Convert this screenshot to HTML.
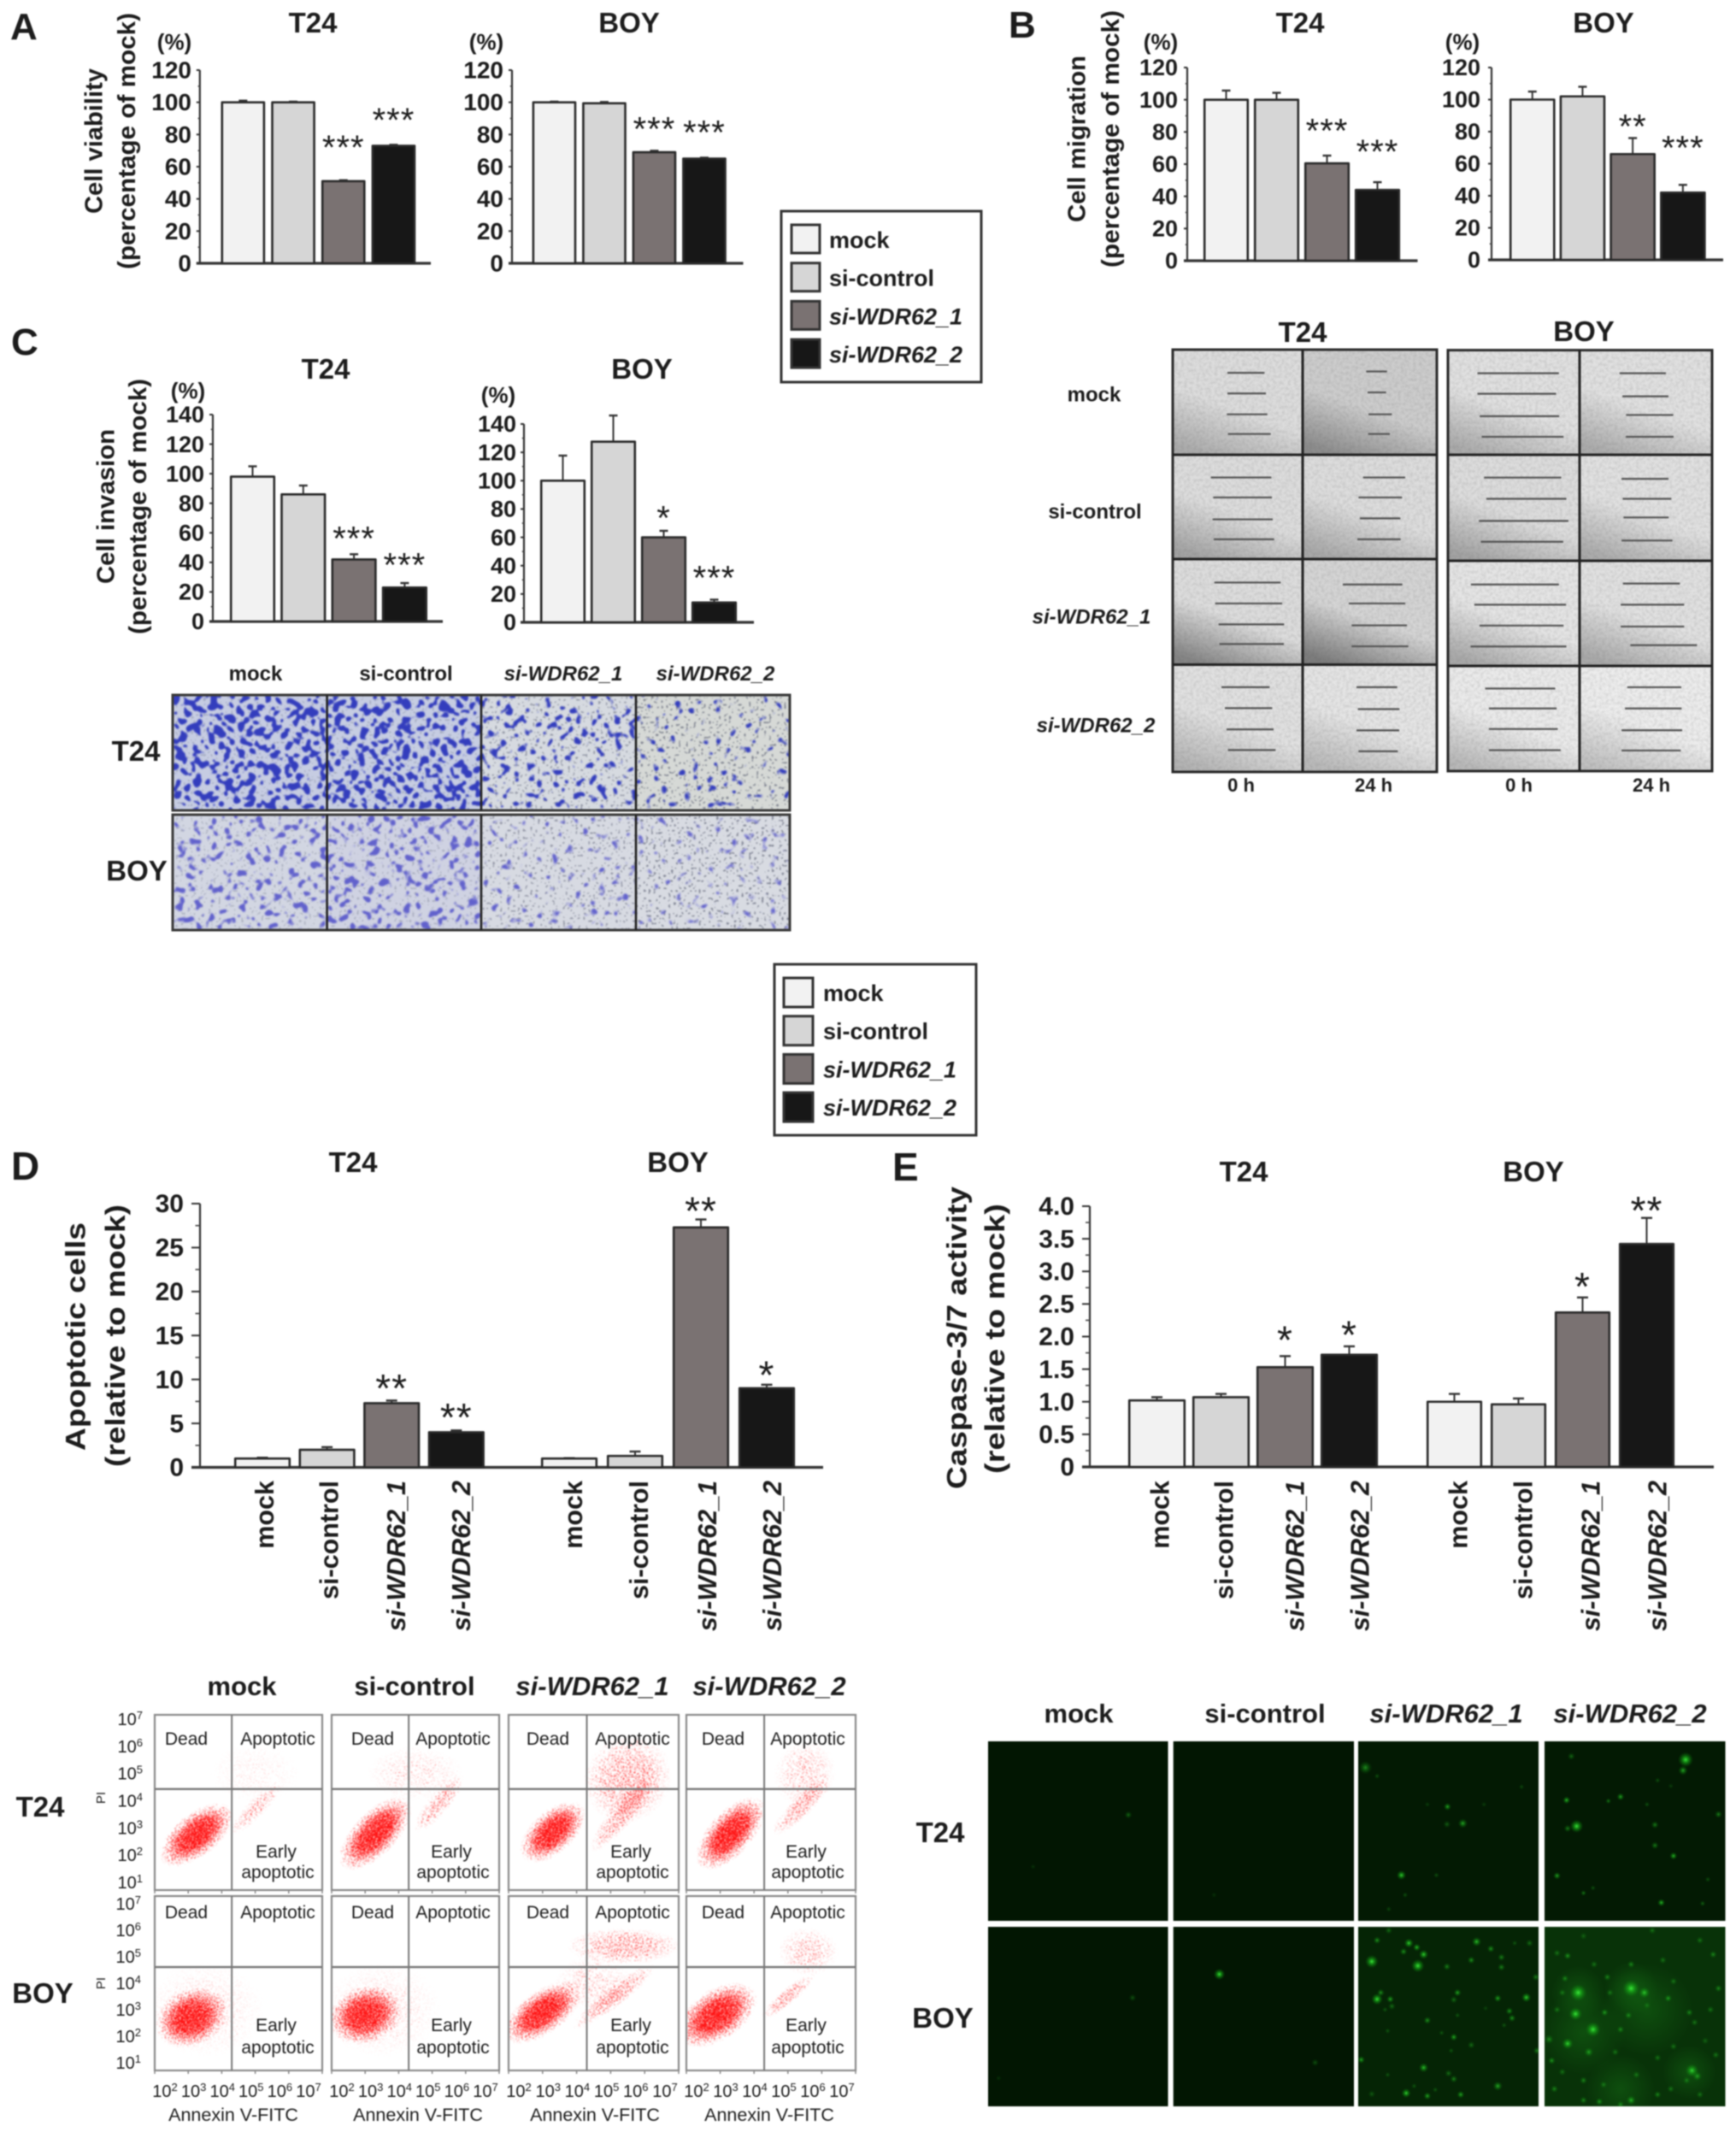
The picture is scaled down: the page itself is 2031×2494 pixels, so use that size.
<!DOCTYPE html>
<html lang="en">
<head>
<meta charset="utf-8">
<title>si-WDR62 functional assays</title>
<style>
html,body{margin:0;padding:0;background:#fff}
svg{display:block;filter:blur(.7px)}
text{font-family:"Liberation Sans",sans-serif;fill:#1c1c1c}
</style>
</head>
<body>
<svg id="fig" xmlns="http://www.w3.org/2000/svg" width="2031" height="2494" viewBox="0 0 2031 2494">
<defs>
<radialGradient id="cloudGrad"><stop offset="0" stop-color="#000" stop-opacity="1"/><stop offset=".45" stop-color="#000" stop-opacity=".82"/><stop offset=".75" stop-color="#000" stop-opacity=".38"/><stop offset="1" stop-color="#000" stop-opacity="0"/></radialGradient>
<radialGradient id="spotGrad"><stop offset="0" stop-color="#3fef3f" stop-opacity=".95"/><stop offset=".4" stop-color="#1cc81c" stop-opacity=".55"/><stop offset="1" stop-color="#0a8a0a" stop-opacity="0"/></radialGradient>
<radialGradient id="hazeGrad"><stop offset="0" stop-color="#1fa01f" stop-opacity=".26"/><stop offset="1" stop-color="#1fa01f" stop-opacity="0"/></radialGradient>
<pattern id="cellLattice" width="15" height="14" patternUnits="userSpaceOnUse"><circle cx="3.75" cy="3.5" r="3.4" fill="#000"/><circle cx="11.25" cy="10.5" r="3.4" fill="#000"/></pattern>
<filter id="speckle" filterUnits="userSpaceOnUse" x="170" y="1995" width="850" height="445" color-interpolation-filters="sRGB">
<feTurbulence type="fractalNoise" baseFrequency=".75" numOctaves="1" seed="4" result="n0"/>
<feColorMatrix in="n0" type="matrix" values="0 0 0 0 0 0 0 0 0 0 0 0 0 0 0 3 0 0 0 -1" result="n"/>
<feComposite in="SourceAlpha" in2="n" operator="arithmetic" k1="0" k2="1" k3="1" k4="-1" result="m"/>
<feColorMatrix in="m" type="matrix" values="0 0 0 0 1 0 0 0 0 .08 0 0 0 0 .08 0 0 0 5 0"/>
<feGaussianBlur stdDeviation=".45"/>
</filter>
<filter id="cellsBlue" filterUnits="userSpaceOnUse" x="202" y="813" width="722" height="135" color-interpolation-filters="sRGB">
<feTurbulence type="fractalNoise" baseFrequency=".05" numOctaves="2" seed="3" result="warp"/>
<feDisplacementMap in="SourceAlpha" in2="warp" scale="24" xChannelSelector="R" yChannelSelector="G" result="d"/>
<feGaussianBlur in="d" stdDeviation="1.5" result="db"/>
<feTurbulence type="fractalNoise" baseFrequency=".11" numOctaves="1" seed="9" result="n0"/>
<feColorMatrix in="n0" type="matrix" values="0 0 0 0 0 0 0 0 0 0 0 0 0 0 0 3 0 0 0 -1" result="n"/>
<feComposite in="db" in2="n" operator="arithmetic" k1="0" k2="1.4" k3="1" k4="-1" result="m"/>
<feColorMatrix in="m" type="matrix" values="0 0 0 0 .2 0 0 0 0 .24 0 0 0 0 .74 0 0 0 5 0"/>
<feGaussianBlur stdDeviation=".8"/>
</filter>
<filter id="cellsPurple" filterUnits="userSpaceOnUse" x="202" y="953" width="722" height="135" color-interpolation-filters="sRGB">
<feTurbulence type="fractalNoise" baseFrequency=".05" numOctaves="2" seed="17" result="warp"/>
<feDisplacementMap in="SourceAlpha" in2="warp" scale="24" xChannelSelector="R" yChannelSelector="G" result="d"/>
<feGaussianBlur in="d" stdDeviation="1.5" result="db"/>
<feTurbulence type="fractalNoise" baseFrequency=".11" numOctaves="1" seed="21" result="n0"/>
<feColorMatrix in="n0" type="matrix" values="0 0 0 0 0 0 0 0 0 0 0 0 0 0 0 3 0 0 0 -1" result="n"/>
<feComposite in="db" in2="n" operator="arithmetic" k1="0" k2="1.4" k3="1" k4="-1" result="m"/>
<feColorMatrix in="m" type="matrix" values="0 0 0 0 .38 0 0 0 0 .38 0 0 0 0 .8 0 0 0 3.6 0"/>
<feGaussianBlur stdDeviation=".8"/>
</filter>
<filter id="pores" filterUnits="userSpaceOnUse" x="200" y="810" width="732" height="282" color-interpolation-filters="sRGB">
<feTurbulence type="fractalNoise" baseFrequency=".34" numOctaves="1" seed="13" result="n0"/>
<feColorMatrix in="n0" type="matrix" values="0 0 0 0 0 0 0 0 0 0 0 0 0 0 0 3 0 0 0 -1" result="n"/>
<feComposite in="SourceAlpha" in2="n" operator="arithmetic" k1="0" k2="1" k3="1" k4="-1" result="m"/>
<feColorMatrix in="m" type="matrix" values="0 0 0 0 .32 0 0 0 0 .34 0 0 0 0 .42 0 0 0 5 0"/>
<feGaussianBlur stdDeviation=".6"/>
</filter>
<filter id="grain" filterUnits="userSpaceOnUse" x="1368" y="405" width="640" height="500" color-interpolation-filters="sRGB">
<feTurbulence type="fractalNoise" baseFrequency=".28" numOctaves="2" seed="5"/>
<feColorMatrix type="matrix" values="0 0 0 0 .3 0 0 0 0 .3 0 0 0 0 .3 .3 0 0 0 -.11"/>
</filter>
</defs>
<g id="panel-a"></g>
<g id="panel-b"></g>
<g id="panel-c"></g>
<g id="panel-d"></g>
<g id="panel-e"></g>
</svg>
<script>
/* ---------- chart data ---------- */
const categories = ['mock','si-control','si-WDR62_1','si-WDR62_2'];
const barFills = ['#f2f2f2','#d6d6d6','#7a7272','#171717'];

const ticks120 = [0,20,40,60,80,100,120];
const ticks140 = [0,20,40,60,80,100,120,140];
const ticks30 = [0,5,10,15,20,25,30];
const ticksCaspase = ['0','0.5','1.0','1.5','2.0','2.5','3.0','3.5','4.0'];

const viabilityT24 = [100,100,51,73];
const viabilityT24Err = [101,100.4,51.6,73.6];
const viabilityT24Sig = ['','','***','***'];
const viabilityT24SigAt = [0,0,74,91];
const viabilityBOY = [100,99.4,69,65];
const viabilityBOYErr = [100.4,100.2,69.9,65.6];
const viabilityBOYSig = ['','','***','***'];
const viabilityBOYSigAt = [0,0,85.5,83.5];

const migrationT24 = [100,100,60.5,44];
const migrationT24Err = [105.7,104.3,65.3,48.8];
const migrationT24Sig = ['','','***','***'];
const migrationT24SigAt = [0,0,83,70];
const migrationBOY = [100,102,66,42];
const migrationBOYErr = [105,108,76,46.8];
const migrationBOYSig = ['','','**','***'];
const migrationBOYSigAt = [0,0,85.5,72];

const invasionT24 = [98,86,42,23];
const invasionT24Err = [105,92,45.5,26];
const invasionT24Sig = ['','','***','***'];
const invasionT24SigAt = [0,0,58.4,40.5];
const invasionBOY = [100,127.5,60,14];
const invasionBOYErr = [117.7,146,64.6,16];
const invasionBOYSig = ['','','*','***'];
const invasionBOYSigAt = [0,0,76,34];

const apoptosisT24 = [1.0,2.0,7.3,4.0];
const apoptosisT24Err = [1.1,2.3,7.6,4.2];
const apoptosisT24Sig = ['','','**','**'];
const apoptosisT24SigAt = [0,0,9.4,6.1];
const apoptosisBOY = [1.0,1.3,27.3,9.0];
const apoptosisBOYErr = [1.05,1.8,28.2,9.4];
const apoptosisBOYSig = ['','','**','*'];
const apoptosisBOYSigAt = [0,0,29.6,10.9];

const caspaseT24 = [1.02,1.07,1.53,1.72];
const caspaseT24Err = [1.07,1.12,1.70,1.85];
const caspaseT24Sig = ['','','*','*'];
const caspaseT24SigAt = [0,0,2.0,2.08];
const caspaseBOY = [1.0,0.96,2.37,3.42];
const caspaseBOYErr = [1.12,1.05,2.6,3.82];
const caspaseBOYSig = ['','','*','**'];
const caspaseBOYSigAt = [0,0,2.82,3.99];

/* flow cytometry populations: log10 Annexin, log10 PI, long radius, short radius (decades), tilt, density */
const flowT24Mock = [[3.25,2.75,1.45,.72,-38,1],[5,3.7,1.2,.3,-45,.28],[5,5,1.5,1,0,.06]];
const flowT24Control = [[3.3,2.8,1.55,.72,-46,1],[5.2,3.9,1.2,.35,-50,.35],[4.5,5,1.6,.9,0,.12]];
const flowT24Wdr1 = [[3.3,2.85,1.3,.7,-42,1],[5.4,3.6,1.7,.4,-50,.38],[5.5,4.8,1.5,1.4,-45,.36]];
const flowT24Wdr2 = [[3.3,2.8,1.5,.72,-48,1],[5.4,3.8,1.3,.35,-45,.38],[5.5,5,1.1,1,-60,.2]];
const flowBOYMock = [[3.1,2.7,1.25,.95,-25,1],[3.5,3,2,1.6,0,.1]];
const flowBOYControl = [[3,2.8,1.25,.95,-20,1],[3.5,3,2,1.6,0,.1]];
const flowBOYWdr1 = [[3,2.9,1.5,.72,-35,1],[5.1,3.5,1.7,.35,-38,.4],[5.4,5.4,1.9,.6,0,.36],[4.5,4,1.3,.9,0,.16]];
const flowBOYWdr2 = [[2.9,2.8,1.5,.85,-33,1],[5,3.5,1.15,.26,-40,.38],[5.6,5.2,1,.8,0,.22]];
const flowDecadesX = [2,3,4,5,6,7];
const flowDecadesY = [1,2,3,4,5,6,7];

/* wound-healing annotation lines: [start, end, height] */
const woundT24 = [
 [[768,898,225],[768,903,288],[766,908,352],[770,920,412]],
 [[1255,1328,221],[1260,1325,285],[1263,1345,352],[1262,1338,412]],
 [[710,922,545],[718,924,606],[716,927,673],[720,932,734]],
 [[1244,1392,545],[1228,1381,606],[1233,1375,670],[1224,1376,734]],
 [[722,955,866],[725,960,930],[737,967,994],[740,966,1054]],
 [[1173,1382,872],[1194,1392,930],[1204,1398,997],[1204,1403,1061]],
 [[747,916,1186],[759,925,1250],[765,930,1315],[770,937,1378]],
 [[1221,1364,1186],[1226,1372,1253],[1221,1371,1318],[1228,1366,1382]]];
const woundBOY = [
 [[175,460,180],[175,450,245],[183,461,316],[190,476,381]],
 [[672,834,180],[682,843,253],[695,860,312],[694,861,381]],
 [[198,468,510],[206,486,577],[180,493,647],[187,475,713]],
 [[679,843,514],[683,853,577],[686,844,636],[679,857,709]],
 [[152,460,848],[164,485,912],[182,476,978],[151,486,1044]],
 [[684,883,845],[676,898,912],[676,898,981],[710,943,1040]],
 [[202,447,1177],[215,452,1240],[215,456,1305],[215,466,1372]],
 [[699,888,1173],[691,889,1240],[679,891,1309],[679,886,1373]]];
const woundToneT24 = [['#dcdcdc','#ababab'],['#cccccc','#8c8c8c'],['#dcdcdc','#a3a3a3'],['#dcdcdc','#a8a8a8'],['#dcdcdc','#858585'],['#d4d4d4','#7c7c7c'],['#e0e0e0','#b3b3b3'],['#e4e4e4','#b8b8b8']];
const woundToneBOY = [['#e0e0e0','#ababab'],['#e0e0e0','#ababab'],['#dcdcdc','#a3a3a3'],['#e0e0e0','#ababab'],['#e4e4e4','#a8a8a8'],['#e0e0e0','#a8a8a8'],['#eaeaea','#b8b8b8'],['#ececec','#c0c0c0']];

/* invasion assay stain density per tile */
const stainT24 = [1,.95,.5,.28];
const stainBOY = [.58,.66,.32,.24];
const poreDensity = [.06,.06,.1,.13];
const stainBackT24 = ['#c6cce2','#c6cde2','#d6dae0','#d6d9d6'];
const stainBackBOY = ['#d2d6e2','#cfd2e2','#d7dae2','#d8dbe2'];

/* caspase fluorescence foci: x, y, brightness, size */
const fociT24 = [
 [[420,432,.4,4],[240,615,.15,3]],
 [[582,715,.15,3]],
 [[868,265,.55,7],[1023,403,.7,4],[1052,462,.7,5],[1022,465,.35,4],[936,645,.9,5],[1002,645,.3,3],[943,715,.3,3],[912,765,.25,3],[1163,333,.25,3],[1092,395,.2,3],[985,395,.2,3],[890,295,.3,3]],
 [[1473,237,1,8],[1468,275,.7,5],[1257,225,.4,4],[1248,380,.8,4],[1350,368,.7,4],[1327,383,.5,3],[1400,395,.3,3],[1267,472,1,7],[1250,480,.5,4],[1415,467,.5,4],[1415,540,.5,4],[1450,577,.8,4],[1230,647,.7,4],[1535,430,.5,4],[1280,708,.5,3],[1298,690,.3,3],[1427,742,.8,4],[1505,745,.4,3],[1515,660,.3,3],[1420,310,.3,3],[1445,330,.2,3]]];
const fociBOY = [
 [[428,1078,.3,4],[175,1362,.15,3]],
 [[592,995,1,6],[773,1307,.3,4]],
 [[880,950,1,7],[950,885,.9,5],[940,915,.6,4],[965,900,.8,4],[978,925,.9,5],[967,965,1,7],[890,875,.6,4],[912,840,.4,4],[1078,880,.8,5],[1105,905,.6,4],[1125,935,.5,4],[1068,945,.6,4],[1022,968,.5,4],[1125,970,.5,4],[1150,885,.3,3],[1178,885,.4,4],[1190,1005,.5,4],[890,1083,1,6],[897,1060,.6,4],[915,1083,.7,4],[918,1108,.4,4],[905,1120,.3,3],[1042,1060,.7,4],[1035,1085,.4,4],[1118,1080,.7,4],[1172,1077,.9,5],[1140,1125,.6,4],[1145,1150,.6,4],[985,1158,.6,4],[1042,1140,.3,3],[1095,1115,.2,3],[1130,1175,.3,3],[910,1195,.3,3],[1012,1202,.3,3],[1035,1217,.7,4],[1068,1245,.4,4],[1030,1265,.3,3],[1192,1265,.5,4],[860,1297,.7,4],[978,1325,.8,5],[1025,1345,.4,4],[1035,1365,.5,4],[910,1350,.3,3],[1118,1390,.7,5],[945,1415,.9,5],[985,1425,.7,4],[880,1418,.3,4],[1048,1420,.7,4],[1000,1403,.3,3],[960,1390,.3,3]],
 [[1270,1060,1,9],[1370,1045,1,9],[1395,1060,.8,6],[1265,1135,1,7],[1298,1190,1,8],[1250,1240,.9,6],[1215,1225,.5,5],[1220,1300,.6,4],[1485,1335,.9,7],[1495,1355,.6,5],[1370,960,.5,4],[1250,930,.6,4],[1230,920,.4,4],[1325,1005,.5,4],[1245,1010,.5,4],[1430,945,.4,4],[1525,925,.5,4],[1500,875,.4,4],[1410,840,.4,4],[1280,860,.3,4],[1440,1080,.6,4],[1320,1130,.6,4],[1365,1140,.5,4],[1480,1130,.5,4],[1535,1045,.5,4],[1490,1165,.4,4],[1400,1105,.3,4],[1350,1190,.5,4],[1290,1270,.6,5],[1420,1290,.4,4],[1530,1280,.4,4],[1280,1370,.5,4],[1318,1385,.4,4],[1225,1400,.5,4],[1370,1440,.7,5],[1310,1445,.6,4],[1350,1455,.5,4],[1420,1420,.5,4],[1445,1400,.4,4],[1475,1370,.4,4],[1280,1440,.5,4],[1500,1420,.4,4],[1240,1060,.4,4],[1330,1060,.4,4],[1300,960,.4,4],[1450,1020,.4,4],[1520,1120,.4,4],[1230,1120,.4,4],[1240,1340,.4,4],[1380,1350,.4,4],[1450,1250,.4,4],[1340,1270,.4,4],[1510,1230,.3,4]]];
const hazeBOYWdr2 = [[1270,1060,70],[1370,1045,70],[1280,1200,110],[1480,1340,70],[1400,1120,120],[1350,1400,90]];

/* ---------- helpers ---------- */
const NS = 'http://www.w3.org/2000/svg';
const fig = document.getElementById('fig');
const pA = document.getElementById('panel-a');
const pB = document.getElementById('panel-b');
const pC = document.getElementById('panel-c');
const pD = document.getElementById('panel-d');
const pE = document.getElementById('panel-e');

function mk(tag, attrs, parent, name) {
  const el = document.createElementNS(NS, tag);
  for (const k in attrs) el.setAttribute(k, attrs[k]);
  
  
  parent.appendChild(el);
  return el;
}
function txt(parent, x, y, str, size, name, o) {
  o = o || {};
  const a = {x:x, y:y, 'font-size':size, 'font-weight':o.weight||'bold', 'text-anchor':o.anchor||'middle'};
  if (o.length) { a.textLength = o.length; a.lengthAdjust = 'spacingAndGlyphs'; }
  if (o.rot !== undefined) a.transform = 'rotate(' + o.rot + ' ' + x + ' ' + y + ')';
  if (o.spacing) a['letter-spacing'] = o.spacing;
  const t = mk('text', a, parent, name);
  const m = /^(si-WDR62)(_\d)$/.exec(str);
  if (m) {
    const s1 = document.createElementNS(NS, 'tspan');
    s1.setAttribute('font-style', 'italic');
    s1.textContent = m[1];
    t.appendChild(s1);
    const s2 = document.createElementNS(NS, 'tspan');
    s2.setAttribute('font-style', 'italic');
    s2.textContent = m[2];
    t.appendChild(s2);
  } else {
    t.textContent = str;
  }
  return t;
}
function slug(s) { return s.toLowerCase().replace(/[^a-z0-9]+/g, '-'); }

function barChart(parent, c) {
  const y = v => c.zero - v * (c.zero - c.top) / c.yMax;
  const x = i => c.x0 + i * c.step;
  const g = mk('g', {}, parent, c.name);
  if (!c.noAxis) {
    mk('line', {x1:c.axisX, x2:c.axisX, y1:c.top, y2:c.zero, stroke:'#333', 'stroke-width':c.axisW||2.2}, g, 'y-axis');
    mk('line', {x1:c.axisX - (c.tickLen||4), x2:c.axisEnd, y1:c.zero, y2:c.zero, stroke:'#333', 'stroke-width':3.2}, g, 'x-axis');
    c.ticks.forEach((t, i) => {
      const v = parseFloat(t);
      mk('line', {x1:c.axisX - (c.tickLen||4), x2:c.axisX, y1:y(v), y2:y(v), stroke:'#333', 'stroke-width':2}, g, 'y-tick');
      txt(g, c.tickRight, y(v) + c.tickSize * .34, String(t), c.tickSize, 'y-tick-label', {anchor:'end'});
      if (i < c.ticks.length - 1) {
        const m = (v + parseFloat(c.ticks[i + 1])) / 2;
        mk('line', {x1:c.axisX - (c.tickLen||4) * .55, x2:c.axisX, y1:y(m), y2:y(m), stroke:'#444', 'stroke-width':1.6}, g, 'y-minor-tick');
      }
    });
  }
  c.values.forEach((v, i) => {
    const cx = x(i) + c.w / 2;
    const capW = c.capW || 10;
    mk('line', {x1:cx, x2:cx, y1:y(v), y2:y(c.errs[i]), stroke:'#333', 'stroke-width':2}, g, 'error-bar');
    mk('line', {x1:cx - capW / 2, x2:cx + capW / 2, y1:y(c.errs[i]), y2:y(c.errs[i]), stroke:'#333', 'stroke-width':2.4}, g, 'error-cap');
    mk('rect', {x:x(i) + 1.2, y:y(v), width:c.w - 2.4, height:c.zero - y(v), fill:barFills[i], stroke:'#2a2a2a', 'stroke-width':2.6, 'stroke-linejoin':'round'}, g, 'bar-' + slug(categories[i]));
    if (c.sig[i]) {
      const fs = c.starSize || 40;
      txt(g, cx, y(c.sigAt[i]) + fs * .44, c.sig[i], fs, 'significance-stars', {weight:'normal', spacing:c.starGap === undefined ? 1 : c.starGap});
    }
  });
  if (c.labelTop) {
    const fs = 30.5;
    categories.forEach((cat, i) => {
      txt(g, x(i) + c.w / 2 + c.labelDx[i] + fs * .36, c.labelTop, cat, fs, 'category-label-' + slug(cat), {anchor:'end', rot:-90});
    });
  }
}
function yTitle(parent, line1, x1, a1, b1, line2, x2, a2, b2, size, name) {
  txt(parent, x1 + size * .36, (a1 + b1) / 2, line1, size, name + '-line-1', {rot:-90, length:b1 - a1});
  txt(parent, x2 + size * .34, (a2 + b2) / 2, line2, size, name + '-line-2', {rot:-90, length:b2 - a2});
}
function legend(x, y, w, h, sx, sw, sy, gap, tx, ty, name) {
  const g = mk('g', {}, fig, name);
  mk('rect', {x:x, y:y, width:w, height:h, fill:'#fff', stroke:'#333', 'stroke-width':3}, g, 'legend-box');
  categories.forEach((cat, i) => {
    mk('rect', {x:sx, y:sy + i * gap, width:sw, height:sw, fill:barFills[i], stroke:'#333', 'stroke-width':3}, g, 'legend-swatch-' + slug(cat));
    txt(g, tx, ty + i * gap, cat, 27, 'legend-entry-' + slug(cat), {anchor:'start'});
  });
}

/* ---------- Panel A ---------- */
txt(pA, 12, 46, 'A', 44, 'panel-letter-a', {anchor:'start'});
txt(pA, 366, 38, 'T24', 33, 'title-t24');
txt(pA, 736, 38, 'BOY', 33, 'title-boy');
txt(pA, 204, 58, '(%)', 26, 'unit-t24');
txt(pA, 569, 58, '(%)', 26, 'unit-boy');
yTitle(pA, 'Cell viability', 109, 80, 250, '(percentage of mock)', 148, 15, 315, 29, 'y-axis-title');
barChart(pA, {name:'chart-viability-t24', axisX:233.8, axisEnd:504, zero:308, top:82, yMax:120, ticks:ticks120, tickRight:224, tickSize:28, x0:258.6, step:58.7, w:51.5, values:viabilityT24, errs:viabilityT24Err, sig:viabilityT24Sig, sigAt:viabilityT24SigAt});
barChart(pA, {name:'chart-viability-boy', axisX:599, axisEnd:869.5, zero:308, top:82, yMax:120, ticks:ticks120, tickRight:589, tickSize:28, x0:622.7, step:58.5, w:51.5, values:viabilityBOY, errs:viabilityBOYErr, sig:viabilityBOYSig, sigAt:viabilityBOYSigAt});
legend(914, 247, 234, 200, 926, 33, 263, 44.7, 970, 290, 'legend-top');

/* ---------- Panel B ---------- */
txt(pB, 1180, 44, 'B', 44, 'panel-letter-b', {anchor:'start'});
txt(pB, 1521, 38, 'T24', 33, 'title-t24');
txt(pB, 1876, 38, 'BOY', 33, 'title-boy');
txt(pB, 1358, 58, '(%)', 26, 'unit-t24');
txt(pB, 1711, 58, '(%)', 26, 'unit-boy');
yTitle(pB, 'Cell migration', 1259, 65, 260, '(percentage of mock)', 1299, 12, 313, 29, 'y-axis-title');
barChart(pB, {name:'chart-migration-t24', axisX:1389, axisEnd:1658.5, zero:305, top:79, yMax:120, ticks:ticks120, tickRight:1378, tickSize:27, x0:1408, step:59, w:53, values:migrationT24, errs:migrationT24Err, sig:migrationT24Sig, sigAt:migrationT24SigAt});
barChart(pB, {name:'chart-migration-boy', axisX:1745, axisEnd:2016, zero:304, top:79, yMax:120, ticks:ticks120, tickRight:1732, tickSize:27, x0:1766, step:58.7, w:53.5, values:migrationBOY, errs:migrationBOYErr, sig:migrationBOYSig, sigAt:migrationBOYSigAt});

function woundBlock(lines, tones, bx, bw, sx, ox, sy, oy, midx, rows, cellName) {
  const g = mk('g', {}, pB, cellName);
  const defs = fig.querySelector('defs');
  lines.forEach((cell, i) => {
    const r = Math.floor(i / 2), col = i % 2;
    const x = col ? midx : bx, w = col ? bx + bw - midx : midx - bx;
    const y = rows[r], h = rows[r + 1] - rows[r];
    const id = cellName + '-tone-' + i;
    const gr = document.createElementNS(NS, 'linearGradient');
    gr.setAttribute('id', id);
    gr.setAttribute('x1', '.7');
    gr.setAttribute('y1', '0');
    gr.setAttribute('x2', '.25');
    gr.setAttribute('y2', '1');
    [['0', tones[i][0]], ['.55', tones[i][0]], ['1', tones[i][1]]].forEach(s => {
      const st = document.createElementNS(NS, 'stop');
      st.setAttribute('offset', s[0]);
      st.setAttribute('stop-color', s[1]);
      gr.appendChild(st);
    });
    defs.appendChild(gr);
    mk('rect', {x:x, y:y, width:w, height:h, fill:'url(#' + id + ')'}, g, 'wound-photo');
  });
  const cid = cellName + '-clip';
  const cp = document.createElementNS(NS, 'clipPath');
  cp.setAttribute('id', cid);
  const cr = document.createElementNS(NS, 'rect');
  cr.setAttribute('x', bx);
  cr.setAttribute('y', rows[0]);
  cr.setAttribute('width', bw);
  cr.setAttribute('height', rows[4] - rows[0]);
  cp.appendChild(cr);
  defs.appendChild(cp);
  const gw = mk('g', {'clip-path':'url(#' + cid + ')'}, g, 'wound-grain-clip');
  mk('rect', {x:bx, y:rows[0], width:bw, height:rows[4] - rows[0], fill:'#000', filter:'url(#grain)'}, gw, 'wound-photo-grain');
  lines.forEach(cell => {
    cell.forEach(l => {
      mk('line', {x1:l[0] / sx + ox, x2:l[1] / sx + ox, y1:l[2] / sy + oy, y2:l[2] / sy + oy, stroke:'#555', 'stroke-width':2.2}, g, 'wound-edge-line');
    });
  });
  mk('rect', {x:bx, y:rows[0], width:bw, height:rows[4] - rows[0], fill:'none', stroke:'#2a2a2a', 'stroke-width':3}, g, 'wound-grid-frame');
  mk('line', {x1:midx, x2:midx, y1:rows[0], y2:rows[4], stroke:'#222', 'stroke-width':3}, g, 'wound-grid-divider');
  [1, 2, 3].forEach(r => {
    mk('line', {x1:bx, x2:bx + bw, y1:rows[r], y2:rows[r], stroke:'#222', 'stroke-width':3}, g, 'wound-grid-divider');
  });
}
woundBlock(woundT24, woundToneT24, 1372, 309, 3, 1180, 2.613, 350, 1524, [409,532,654,777.5,903], 'wound-t24');
woundBlock(woundBOY, woundToneBOY, 1694, 309, 2.99, 1670, 2.703, 370, 1848, [409.6,532,656,779,902], 'wound-boy');
txt(pB, 1524, 400, 'T24', 33, 'wound-title-t24');
txt(pB, 1853, 399, 'BOY', 33, 'wound-title-boy');
txt(pB, 1280, 469.5, categories[0], 24, 'wound-row-mock');
txt(pB, 1281, 606.5, categories[1], 24, 'wound-row-si-control');
txt(pB, 1277, 729.5, categories[2], 24, 'wound-row-si-wdr62-1');
txt(pB, 1282, 856.5, categories[3], 24, 'wound-row-si-wdr62-2');
txt(pB, 1452, 926, '0  h', 22, 'wound-time-0h').setAttribute('xml:space', 'preserve');
txt(pB, 1607, 926, '24  h', 22, 'wound-time-24h').setAttribute('xml:space', 'preserve');
txt(pB, 1777, 926, '0  h', 22, 'wound-time-0h').setAttribute('xml:space', 'preserve');
txt(pB, 1932, 926, '24  h', 22, 'wound-time-24h').setAttribute('xml:space', 'preserve');

/* ---------- Panel C ---------- */
txt(pC, 13, 415, 'C', 44, 'panel-letter-c', {anchor:'start'});
txt(pC, 381, 443, 'T24', 33, 'title-t24');
txt(pC, 751, 443, 'BOY', 33, 'title-boy');
txt(pC, 220, 466, '(%)', 26, 'unit-t24');
txt(pC, 583, 471, '(%)', 26, 'unit-boy');
yTitle(pC, 'Cell invasion', 123, 502, 683, '(percentage of mock)', 161, 443, 742, 29, 'y-axis-title');
barChart(pC, {name:'chart-invasion-t24', axisX:249, axisEnd:518, zero:727, top:485, yMax:140, ticks:ticks140, tickRight:239, tickSize:27, x0:269, step:59.3, w:53, values:invasionT24, errs:invasionT24Err, sig:invasionT24Sig, sigAt:invasionT24SigAt});
barChart(pC, {name:'chart-invasion-boy', axisX:613, axisEnd:882, zero:728, top:496, yMax:140, ticks:ticks140, tickRight:604, tickSize:27, x0:632, step:59, w:53, values:invasionBOY, errs:invasionBOYErr, sig:invasionBOYSig, sigAt:invasionBOYSigAt});

const tileX = [202,382.6,563,744,924];
const tileRowsY = [[813,948],[953,1088]];
[299,475,659,837].forEach((cx, i) => txt(pC, cx, 796, categories[i], 24, 'invasion-column-' + slug(categories[i])));
txt(pC, 159, 890, 'T24', 33, 'invasion-row-t24');
txt(pC, 160, 1030, 'BOY', 33, 'invasion-row-boy');
[[stainBackT24,stainT24,'cellsBlue',0],[stainBackBOY,stainBOY,'cellsPurple',1]].forEach(cfg => {
  const back = cfg[0], dens = cfg[1], filt = cfg[2], row = tileRowsY[cfg[3]];
  const base = mk('g', {}, pC, 'invasion-photos-row');
  back.forEach((col, i) => {
    mk('rect', {x:tileX[i], y:row[0], width:tileX[i + 1] - tileX[i], height:row[1] - row[0], fill:col}, base, 'invasion-photo-background');
  });
  const pg = mk('g', {filter:'url(#pores)'}, pC, 'invasion-pores');
  back.forEach((col, i) => {
    mk('rect', {x:tileX[i], y:row[0], width:tileX[i + 1] - tileX[i], height:row[1] - row[0], fill:'#000', 'fill-opacity':poreDensity[i]}, pg, 'invasion-pore-field');
  });
  const cg = mk('g', {filter:'url(#' + filt + ')'}, pC, 'invasion-cells');
  dens.forEach((d, i) => {
    mk('rect', {x:tileX[i], y:row[0], width:tileX[i + 1] - tileX[i], height:row[1] - row[0], fill:'url(#cellLattice)', 'fill-opacity':d}, cg, 'invasion-cell-field');
  });
  const fr = mk('g', {}, pC, 'invasion-frame');
  mk('rect', {x:tileX[0], y:row[0], width:tileX[4] - tileX[0], height:row[1] - row[0], fill:'none', stroke:'#3a3a3a', 'stroke-width':3}, fr, 'invasion-frame-box');
  [1, 2, 3].forEach(k => {
    mk('line', {x1:tileX[k], x2:tileX[k], y1:row[0], y2:row[1], stroke:'#222', 'stroke-width':2.6}, fr, 'invasion-frame-divider');
  });
});

legend(906, 1128, 236, 200, 917, 34, 1144, 44.7, 963, 1171, 'legend-middle');

/* ---------- Panel D ---------- */
txt(pD, 13, 1380, 'D', 46, 'panel-letter-d', {anchor:'start'});
txt(pD, 413, 1371, 'T24', 33, 'title-t24');
txt(pD, 793, 1371, 'BOY', 33, 'title-boy');
yTitle(pD, 'Apoptotic  cells', 88, 1430, 1697, '(relative to mock)', 135, 1409, 1716, 32, 'y-axis-title');
barChart(pD, {name:'chart-apoptosis-t24', axisX:234, axisEnd:963, zero:1716.5, top:1408, yMax:30, ticks:ticks30, tickRight:215, tickSize:30, tickLen:10, x0:274, step:75.6, w:66, capW:13, starSize:46, values:apoptosisT24, errs:apoptosisT24Err, sig:apoptosisT24Sig, sigAt:apoptosisT24SigAt, labelTop:1732, labelDx:[2,2,5,5]});
barChart(pD, {name:'chart-apoptosis-boy', noAxis:true, zero:1716.5, top:1408, yMax:30, x0:633, step:77, w:66, capW:13, starSize:46, values:apoptosisBOY, errs:apoptosisBOYErr, sig:apoptosisBOYSig, sigAt:apoptosisBOYSigAt, labelTop:1732, labelDx:[4,4,7,6]});

/* flow cytometry */
const flowCols = [[181,196],[388,196],[595,199],[803,198]];
const flowRows = [[2006,2211],[2218,2422]];
const flowSets = [[flowT24Mock,flowT24Control,flowT24Wdr1,flowT24Wdr2],[flowBOYMock,flowBOYControl,flowBOYWdr1,flowBOYWdr2]];
const deadDx = [37,48,46,43];
const apoDx = [144,142,145,142];
const colCenters = [283,485,693,900];
const annexCenters = [273,489,696,900];
const flowGateX = 4.3;
const flowGateY = [4.43,4.61];
colCenters.forEach((cx, i) => txt(pD, cx, 1983, categories[i], 31, 'flow-column-' + slug(categories[i])));
txt(pD, 47, 2125, 'T24', 33, 'flow-row-t24');
txt(pD, 50, 2343, 'BOY', 33, 'flow-row-boy');

const flowBack = mk('g', {}, pD, 'flow-plot-backgrounds');
const flowDots = mk('g', {filter:'url(#speckle)'}, pD, 'flow-events');
const flowFront = mk('g', {}, pD, 'flow-plot-frames');
const clipDefs = fig.querySelector('defs');
flowRows.forEach((row, r) => {
  const [py, pb] = row;
  const yBot = pb - 9, yTop = py + (r ? 9 : 5);
  const yS = v => yBot - (v - 1) * (yBot - yTop) / 6;
  flowCols.forEach((col, c) => {
    const [px, pw] = col;
    const xS = v => px + (v - 2) * pw / 5;
    const unit = (pw / 5 + (yBot - yTop) / 6) / 2;
    const cid = 'flow-clip-' + r + '-' + c;
    const cp = document.createElementNS(NS, 'clipPath');
    cp.setAttribute('id', cid);
    const cr = document.createElementNS(NS, 'rect');
    cr.setAttribute('x', px);
    cr.setAttribute('y', py);
    cr.setAttribute('width', pw);
    cr.setAttribute('height', pb - py);
    cp.appendChild(cr);
    clipDefs.appendChild(cp);
    mk('rect', {x:px, y:py, width:pw, height:pb - py, fill:'#fff'}, flowBack, 'flow-plot-area');
    const pg = mk('g', {'clip-path':'url(#' + cid + ')'}, flowDots, 'flow-plot-events');
    flowSets[r][c].forEach(p => {
      const cx = xS(p[0]), cy = yS(p[1]);
      mk('ellipse', {cx:cx, cy:cy, rx:p[2] * unit, ry:p[3] * unit, fill:'url(#cloudGrad)', 'fill-opacity':p[5], transform:'rotate(' + p[4] + ' ' + cx + ' ' + cy + ')'}, pg, 'flow-population');
    });
    mk('rect', {x:px, y:py, width:pw, height:pb - py, fill:'none', stroke:'#8a8a8a', 'stroke-width':2.2}, flowFront, 'flow-plot-frame');
    mk('line', {x1:xS(flowGateX), x2:xS(flowGateX), y1:py, y2:pb, stroke:'#777', 'stroke-width':2}, flowFront, 'flow-gate-vertical');
    mk('line', {x1:px, x2:px + pw, y1:yS(flowGateY[r]), y2:yS(flowGateY[r]), stroke:'#777', 'stroke-width':2.4}, flowFront, 'flow-gate-horizontal');
    flowDecadesX.forEach(d => {
      mk('line', {x1:xS(d), x2:xS(d), y1:pb, y2:pb + 4, stroke:'#888', 'stroke-width':1.5}, flowFront, 'flow-x-tick');
    });
    const lblDead = r ? py + 26 : py + 35;
    const lblEarly = r ? py + 158 : py + 167;
    const lblApop = r ? py + 184 : py + 191;
    txt(flowFront, px + deadDx[c], lblDead, 'Dead', 21, 'quadrant-label-dead', {weight:'normal'});
    txt(flowFront, px + apoDx[c], lblDead, 'Apoptotic', 21, 'quadrant-label-apoptotic', {weight:'normal'});
    txt(flowFront, px + apoDx[c] - 2, lblEarly, 'Early', 21, 'quadrant-label-early', {weight:'normal'});
    txt(flowFront, px + apoDx[c], lblApop, 'apoptotic', 21, 'quadrant-label-early-apoptotic', {weight:'normal'});
    if (r === 1) {
      flowDecadesX.forEach(d => {
        const lx = px + (d - 2) * (pw - 28) / 5 + 14;
        const t = txt(flowFront, lx - 2, 2453, '10', 20, 'flow-x-tick-label', {weight:'normal'});
        const s = document.createElementNS(NS, 'tspan');
        s.setAttribute('dy', '-7');
        s.setAttribute('font-size', '13');
        s.textContent = d;
        t.appendChild(s);
      });
      txt(flowFront, annexCenters[c], 2481, 'Annexin V-FITC', 21.5, 'flow-x-axis-title', {weight:'normal'});
    }
  });
  flowDecadesY.forEach(d => {
    const ly = yS(d) + 7;
    const t = txt(flowFront, 167 - r * 2, ly, '10', 20, 'flow-y-tick-label', {anchor:'end', weight:'normal'});
    const s = document.createElementNS(NS, 'tspan');
    s.setAttribute('dy', '-7');
    s.setAttribute('font-size', '13');
    s.textContent = d;
    t.appendChild(s);
  });
  txt(flowFront, 123, r ? 2320 : 2103, 'PI', 15, 'flow-y-axis-title', {rot:-90, weight:'normal'});
});

/* ---------- Panel E ---------- */
txt(pE, 1044, 1381, 'E', 46, 'panel-letter-e', {anchor:'start'});
txt(pE, 1455, 1382, 'T24', 33, 'title-t24');
txt(pE, 1794, 1382, 'BOY', 33, 'title-boy');
yTitle(pE, 'Caspase-3/7 activity', 1119, 1388, 1742, '(relative to  mock)', 1164, 1408, 1724, 32, 'y-axis-title');
barChart(pE, {name:'chart-caspase-t24', axisX:1275, axisEnd:2005, zero:1716, top:1411, yMax:4, ticks:ticksCaspase, tickRight:1257, tickSize:30, tickLen:9, x0:1320, step:75, w:67, capW:13, starSize:46, values:caspaseT24, errs:caspaseT24Err, sig:caspaseT24Sig, sigAt:caspaseT24SigAt, labelTop:1732, labelDx:[3,3,11,12]});
barChart(pE, {name:'chart-caspase-boy', noAxis:true, zero:1716, top:1411, yMax:4, x0:1669, step:75, w:65, capW:13, starSize:46, values:caspaseBOY, errs:caspaseBOYErr, sig:caspaseBOYSig, sigAt:caspaseBOYSigAt, labelTop:1732, labelDx:[4,5,9,12]});

/* fluorescence micrographs */
const fluoX = [[1156,1366.5],[1372.7,1584],[1589,1800],[1807,2018.5]];
const fluoY = [[2037,2247],[2254,2464]];
const fociX = v => v / 1.615 + 1060;
const fociY = v => v / 3.02 + 1980;
[1262,1480,1692,1907].forEach((cx, i) => txt(pE, cx, 2015, categories[i], 31, 'fluorescence-column-' + slug(categories[i])));
txt(pE, 1100, 2155, 'T24', 33, 'fluorescence-row-t24');
txt(pE, 1103, 2372, 'BOY', 33, 'fluorescence-row-boy');
[fociT24, fociBOY].forEach((rowFoci, r) => {
  rowFoci.forEach((spots, c) => {
    const g = mk('g', {}, pE, 'fluorescence-photo');
    const base = (r === 1 && c === 3) ? '#083208' : (r === 1 && c === 2) ? '#052405' : (c >= 2 ? '#031a03' : '#021602');
    mk('rect', {x:fluoX[c][0], y:fluoY[r][0], width:fluoX[c][1] - fluoX[c][0], height:fluoY[r][1] - fluoY[r][0], fill:base}, g, 'fluorescence-background');
    const cid = 'fluo-clip-' + r + '-' + c;
    const cp = document.createElementNS(NS, 'clipPath');
    cp.setAttribute('id', cid);
    const cr = document.createElementNS(NS, 'rect');
    cr.setAttribute('x', fluoX[c][0]);
    cr.setAttribute('y', fluoY[r][0]);
    cr.setAttribute('width', fluoX[c][1] - fluoX[c][0]);
    cr.setAttribute('height', fluoY[r][1] - fluoY[r][0]);
    cp.appendChild(cr);
    clipDefs.appendChild(cp);
    const sg = mk('g', {'clip-path':'url(#' + cid + ')'}, g, 'fluorescence-foci');
    if (r === 1 && c === 3) {
      hazeBOYWdr2.forEach(h => {
        mk('circle', {cx:fociX(h[0]), cy:fociY(h[1]), r:h[2] * .45, fill:'url(#hazeGrad)'}, sg, 'fluorescence-haze');
      });
    }
    spots.forEach(s => {
      mk('circle', {cx:fociX(s[0]), cy:fociY(s[1]), r:s[3] * 1.1, fill:'url(#spotGrad)', 'fill-opacity':s[2]}, sg, 'fluorescent-cell');
    });
  });
});
</script>
</body>
</html>
